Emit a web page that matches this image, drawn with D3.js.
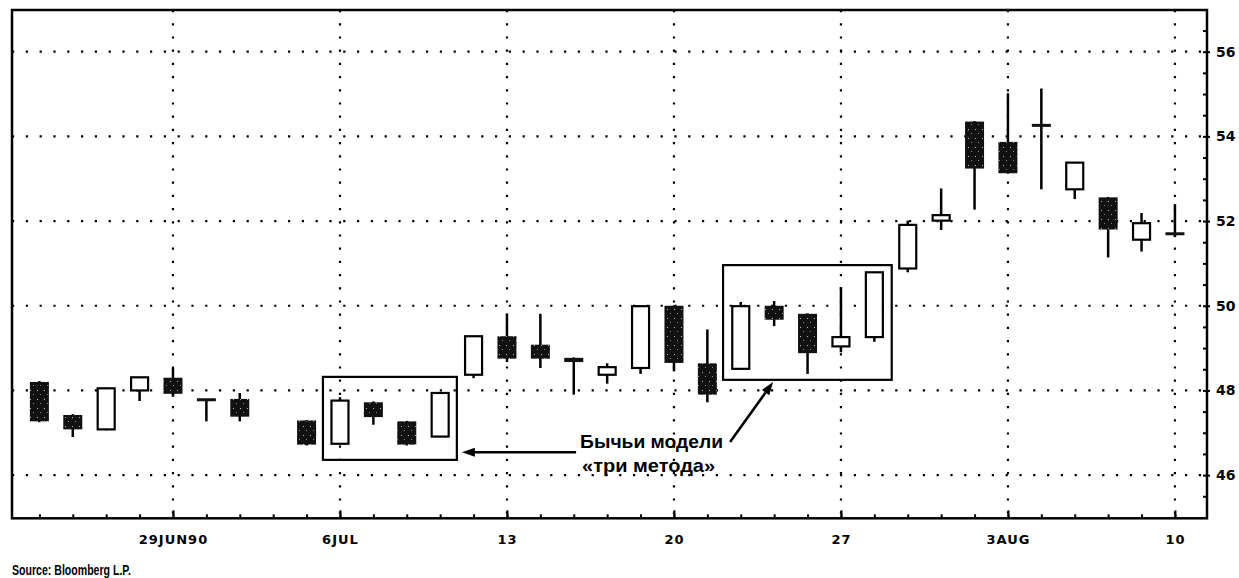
<!DOCTYPE html>
<html>
<head>
<meta charset="utf-8">
<script src="https://cdn.jsdelivr.net/npm/d3@7"></script>
<style>
  html, body { margin: 0; padding: 0; background: #fff; }
  svg { display: block; }
</style>
</head>
<body>
<svg id="chart" width="1239" height="578"></svg>
<script>
// ---------- DATA ----------
const dates = [
  "1990-06-25","1990-06-26","1990-06-27","1990-06-28","1990-06-29",
  "1990-07-02","1990-07-03","1990-07-04","1990-07-05","1990-07-06",
  "1990-07-09","1990-07-10","1990-07-11","1990-07-12","1990-07-13",
  "1990-07-16","1990-07-17","1990-07-18","1990-07-19","1990-07-20",
  "1990-07-23","1990-07-24","1990-07-25","1990-07-26","1990-07-27",
  "1990-07-30","1990-07-31","1990-08-01","1990-08-02","1990-08-03",
  "1990-08-06","1990-08-07","1990-08-08","1990-08-09","1990-08-10"
];
const openVals  = [48.20,47.42,47.08,48.00,48.30, 47.78,47.80,null,47.29,46.74, 47.72,47.27,46.91,48.37,49.28, 49.08,48.77,48.37,48.53,50.00, 48.64,48.51,50.00,49.81,49.04, 49.26,50.88,52.01,54.35,53.87, 54.26,52.75,52.56,51.56,51.70];
const highVals  = [48.22,47.44,48.07,48.31,48.53, 47.79,47.94,null,47.30,47.84, 47.74,47.28,47.95,49.28,49.81, 49.81,48.78,48.64,49.99,50.01, 49.44,50.09,50.11,49.82,50.44, 50.79,52.01,52.77,54.36,55.02, 55.13,53.38,52.57,52.19,52.40];
const lowVals   = [47.25,46.90,47.06,47.75,47.85, 47.27,47.27,null,46.70,46.72, 47.19,46.70,46.90,48.29,48.67, 48.53,47.90,48.16,48.39,48.45, 47.72,48.50,49.52,48.39,48.90, 49.15,50.79,51.79,52.27,53.12, 52.75,52.52,51.14,51.28,51.62];
const closeVals = [47.27,47.08,48.05,48.31,47.92, 47.72,47.38,null,46.72,47.76, 47.37,46.72,47.94,49.28,48.75, 48.75,48.67,48.55,49.99,48.65, 47.90,49.99,49.67,48.88,49.26, 50.79,51.91,52.14,53.24,53.13, 54.24,53.38,51.80,51.95,51.68];

const xTickDates  = ["1990-06-29","1990-07-06","1990-07-13","1990-07-20","1990-07-27","1990-08-03","1990-08-10"];
const xTickLabels = ["29JUN90","6JUL","13","20","27","3AUG","10"];
const yTickValues = [46,48,50,52,54,56];

// annotation (in data space: day index, price)
const boxes = [
  {x0: 8.49, x1: 12.5, y0: 46.36, y1: 48.32},
  {x0: 20.47, x1: 25.52, y0: 48.25, y1: 50.96}
];
const arrows = [
  {from: [16.07, 46.54], to: [12.65, 46.54]},
  {from: [20.68, 46.78], to: [21.97, 48.20]}
];
const noteLines = ["Бычьи модели", "«три метода»"];
const notePos = [[16.19, 46.64], [16.25, 46.065]];
const sourceText = "Source: Bloomberg L.P.";

// ---------- LAYOUT ----------
const svg = d3.select("#chart");
const L = 12, R = 1207, T = 10, B = 518.3;

const x = d3.scaleLinear().domain([-0.82, 34.96]).range([L, R]);
const y = d3.scaleLinear().domain([44.98, 56.985]).range([B, T]);

const candles = dates.map((d, i) => ({
  i, date: d, o: openVals[i], h: highVals[i], l: lowVals[i], c: closeVals[i]
})).filter(d => d.o != null);

const idxOf = d => dates.indexOf(d);
const tickIdx = xTickDates.map(idxOf);

// stipple pattern for dark bodies
const defs = svg.append("defs");
const pat = defs.append("pattern").attr("id", "stip").attr("patternUnits", "userSpaceOnUse")
  .attr("width", 7).attr("height", 9);
pat.append("rect").attr("width", 7).attr("height", 9).attr("fill", "#111");
pat.append("rect").attr("x", 2).attr("y", 3).attr("width", 1).attr("height", 1).attr("fill", "#fff").attr("opacity", 0.7);
pat.append("rect").attr("x", 5).attr("y", 7).attr("width", 1).attr("height", 1).attr("fill", "#fff").attr("opacity", 0.5);

// ---------- GRID ----------
const grid = svg.append("g");
grid.selectAll("line.h").data(yTickValues).join("line")
  .attr("x1", L).attr("x2", R)
  .attr("y1", d => y(d)).attr("y2", d => y(d))
  .attr("stroke", "#000").attr("stroke-width", 2.2)
  .attr("stroke-dasharray", "2.2,11.6");
grid.selectAll("line.v").data(tickIdx).join("line")
  .attr("x1", d => x(d)).attr("x2", d => x(d))
  .attr("y1", T).attr("y2", B)
  .attr("stroke", "#000").attr("stroke-width", 2.2)
  .attr("stroke-dasharray", "2.2,11");

// ---------- AXES ----------
const fontAxis = "'DejaVu Sans', sans-serif";
svg.append("g").attr("transform", `translate(0,${B})`)
  .call(d3.axisBottom(x).tickValues(d3.range(0, dates.length)).tickSize(-4).tickFormat(""))
  .call(g => g.select(".domain").remove())
  .call(g => g.selectAll("line").attr("stroke", "#000").attr("stroke-width", 2));
svg.append("g").attr("transform", `translate(0,${B})`)
  .call(d3.axisBottom(x).tickValues(tickIdx).tickSize(-8).tickPadding(16)
        .tickFormat((d, i) => xTickLabels[i]))
  .call(g => g.select(".domain").remove())
  .call(g => g.selectAll("line").attr("stroke", "#000").attr("stroke-width", 2))
  .call(g => g.selectAll("text").attr("font-family", fontAxis).attr("font-weight", "bold")
        .attr("font-size", 13).attr("letter-spacing", 1).attr("fill", "#000"));

svg.append("g").attr("transform", `translate(${R},0)`)
  .call(d3.axisRight(y).tickValues(d3.range(45.5, 57, 0.5)).tickSize(-4).tickFormat(""))
  .call(g => g.select(".domain").remove())
  .call(g => g.selectAll("line").attr("stroke", "#000").attr("stroke-width", 2));
svg.append("g").attr("transform", `translate(${R},0)`)
  .call(d3.axisRight(y).tickValues(yTickValues).tickSize(3).tickPadding(6).tickFormat(d3.format("d")))
  .call(g => g.select(".domain").remove())
  .call(g => g.selectAll("line").attr("stroke", "#000").attr("stroke-width", 2))
  .call(g => g.selectAll("text").attr("font-family", fontAxis).attr("font-weight", "bold")
        .attr("font-size", 14).attr("fill", "#000"));

svg.append("rect").attr("x", L).attr("y", T).attr("width", R - L).attr("height", B - T)
  .attr("fill", "none").attr("stroke", "#000").attr("stroke-width", 2.5);

// ---------- CANDLES ----------
const bw = 19;
const cg = svg.append("g");
cg.selectAll("line.wick").data(candles).join("line")
  .attr("x1", d => x(d.i)).attr("x2", d => x(d.i))
  .attr("y1", d => y(d.h)).attr("y2", d => y(d.l))
  .attr("stroke", "#000").attr("stroke-width", 2.5);

const up = candles.filter(d => d.c >= d.o);
const down = candles.filter(d => d.c < d.o);

cg.selectAll("rect.up").data(up).join("rect")
  .attr("x", d => x(d.i) - (bw - 2) / 2).attr("width", bw - 2)
  .attr("y", d => y(d.c)).attr("height", d => Math.max(3, y(d.o) - y(d.c)))
  .attr("fill", "#fff").attr("stroke", "#000").attr("stroke-width", 2.2);

cg.selectAll("rect.down").data(down).join("rect")
  .attr("x", d => x(d.i) - bw / 2).attr("width", bw)
  .attr("y", d => y(d.o) - (y(d.c) - y(d.o) < 3 ? 1.5 : 0))
  .attr("height", d => Math.max(3, y(d.c) - y(d.o)))
  .attr("fill", d => (y(d.c) - y(d.o) < 6 ? "#111" : "url(#stip)")).attr("stroke", "none");

// ---------- ANNOTATIONS ----------
const ag = svg.append("g");
ag.selectAll("rect").data(boxes).join("rect")
  .attr("x", d => x(d.x0)).attr("y", d => y(d.y1))
  .attr("width", d => x(d.x1) - x(d.x0)).attr("height", d => y(d.y0) - y(d.y1))
  .attr("fill", "none").attr("stroke", "#000").attr("stroke-width", 2.2);

arrows.forEach(a => {
  const x1 = x(a.from[0]), y1 = y(a.from[1]), x2 = x(a.to[0]), y2 = y(a.to[1]);
  const ang = Math.atan2(y2 - y1, x2 - x1);
  const len = 13, hw = 4.5;
  const bx = x2 - len * Math.cos(ang), by = y2 - len * Math.sin(ang);
  ag.append("line").attr("x1", x1).attr("y1", y1).attr("x2", bx).attr("y2", by)
    .attr("stroke", "#000").attr("stroke-width", 2.5);
  const px = -Math.sin(ang) * hw, py = Math.cos(ang) * hw;
  ag.append("path")
    .attr("d", `M${x2},${y2}L${bx + px},${by + py}L${bx - px},${by - py}Z`)
    .attr("fill", "#000");
});

ag.selectAll("text.note").data(noteLines).join("text")
  .attr("x", (d, i) => x(notePos[i][0])).attr("y", (d, i) => y(notePos[i][1]))
  .attr("font-family", "'Liberation Sans', Arial, sans-serif").attr("font-weight", "bold")
  .attr("font-size", 19).attr("fill", "#000")
  .attr("textLength", (d, i) => i === 0 ? 143 : 133).attr("lengthAdjust", "spacingAndGlyphs")
  .text(d => d);

svg.append("text").attr("x", 12).attr("y", 575)
  .attr("font-family", "'Liberation Sans Narrow', 'Liberation Sans', Arial, sans-serif")
  .attr("font-weight", "bold").attr("font-size", 14).attr("fill", "#000")
  .attr("textLength", 119).attr("lengthAdjust", "spacingAndGlyphs")
  .text(sourceText);
</script>
</body>
</html>
